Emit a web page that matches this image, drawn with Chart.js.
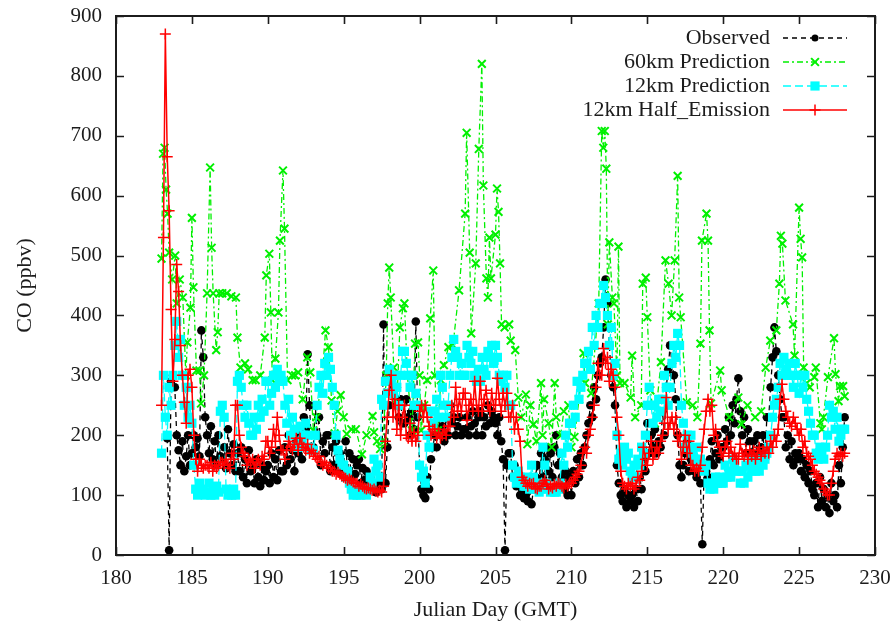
<!DOCTYPE html>
<html>
<head>
<meta charset="utf-8">
<title>CO time series</title>
<script src="https://cdn.jsdelivr.net/npm/chart.js@4.4.1/dist/chart.umd.min.js"></script>
<style>
  html, body { margin: 0; padding: 0; background: #fff; }
  canvas { display: block; }
</style>
</head>
<body>
<canvas id="co_chart" width="894" height="631"></canvas>
<script>
// observed, 12km and half-emission runs are 3-hourly from day 183.0 (8 values per line = one day)
const grid_start = 183.0;
const grid_step = 0.125;

const obs_co = [
  null, null, null, 195, 8, 290, 300, 280,
  200, 175, 150, 190, 140, 165, 200, 150,
  170, 200, 180, 195, 165, 375, 330, 230,
  200, 170, 215, 160, 190, 150, 200, 165,
  160, 180, 145, 210, 170, 150, 185, 140,
  170, 140, 180, 130, 160, 120, 175, 140,
  150, 120, 160, 130, 115, 150, 125, 140,
  150, 120, 170, 130, 160, 125, 175, 140,
  140, 180, 150, 200, 160, 175, 140, 190,
  170, 200, 160, 230, 210, 335, 250, 180,
  180, 250, 200, 230, 150, 190, 170, 200,
  200, 140, 180, 150, 190, 145, 170, 135,
  150, 190, 140, 170, 130, 160, 135, 150,
  160, 120, 145, 125, 140, 115, 130, 110,
  115, 105, 120, 110, 110, 385, 120, 180,
  250, 300, 270, 250, 280, 230, 260, 220,
  220, 260, 230, 200, 240, 210, 390, 230,
  150, 110, 100, 95, 130, 110, 160, 180,
  200, 180, 230, 200, 215, 190, 230, 200,
  250, 220, 230, 200, 215, 230, 200, 210,
  210, 230, 200, 215, 240, 220, 200, 230,
  240, 200, 230, 215, 250, 220, 240, 230,
  220, 200, 230, 190, 160, 8, 150, 170,
  170, 130, 150, 115, 130, 100, 110, 95,
  100, 90, 110, 85, 110, 130, 150, 120,
  170, 130, 160, 180, 140, 170, 130, 180,
  200, 150, 170, 130, 110, 140, 100, 130,
  100, 140, 120, 160, 130, 170, 150, 180,
  200, 220, 250, 230, 280, 260, 300, 320,
  330, 380, 460, 420, 350, 300, 280, 250,
  150, 120, 100, 90, 110, 80, 100, 90,
  100, 80, 110, 90, 130, 110, 160, 140,
  220, 170, 200, 180, 210, 170, 190, 180,
  240, 200, 280, 310, 350, 320, 300, 260,
  200, 150, 130, 150, 170, 190, 140, 160,
  160, 140, 130, 150, 120, 18, 150, 140,
  130, 160, 190, 150, 170, 200, 160, 180,
  180, 210, 190, 230, 200, 250, 220, 260,
  295, 240, 200, 230, 170, 210, 190, 170,
  190, 160, 200, 170, 180, 200, 160, 230,
  230, 280, 330, 380, 340, 300, 260, 230,
  230, 180, 200, 160, 190, 150, 170, 160,
  170, 140, 160, 130, 150, 120, 140, 110,
  100, 120, 80, 130, 90, 110, 80, 100,
  70, 120, 90, 100, 80, 150, 120, 180,
  230
];

const p12_co = [
  170, 300, 230, 200, 280, 250, 300, 350,
  390, 330, 360, 300, 250, 280, 230, 250,
  220, 150, 110, 100, 120, 105, 110, 100,
  105, 120, 100, 110, 100, 115, 105, 240,
  250, 230, 110, 100, 105, 100, 110, 100,
  290, 300, 280, 250, 230, 250, 220, 200,
  200, 230, 210, 250, 230, 260, 240, 290,
  290, 250, 270, 300, 280, 310, 290, 300,
  290, 250, 220, 260, 200, 230, 210, 180,
  180, 215, 190, 200, 220, 200, 180, 175,
  175, 200, 250, 280, 300, 270, 320, 300,
  330, 310, 280, 250, 200, 175, 160, 150,
  150, 130, 140, 120, 110, 100, 105, 100,
  105, 100, 110, 105, 100, 110, 130, 120,
  160, 140, 150, 130, 260, 250, 290, 270,
  310, 290, 270, 300, 280, 250, 300, 340,
  340, 320, 300, 280, 300, 250, 270, 250,
  150, 130, 140, 120, 200, 180, 240, 220,
  240, 260, 230, 300, 280, 250, 230, 250,
  300, 330, 360, 340, 330, 300, 320, 300,
  300, 350, 330, 320, 340, 300, 290, 310,
  290, 330, 310, 300, 340, 330, 350, 320,
  350, 330, 300, 290, 300, 280, 300, 250,
  250, 150, 130, 120, 140, 130, 120, 115,
  115, 130, 110, 150, 130, 110, 120, 105,
  110, 180, 150, 120, 110, 105, 110, 105,
  105, 110, 120, 170, 150, 200, 180, 220,
  220, 250, 230, 290, 260, 280, 300, 320,
  320, 340, 310, 380, 350, 400, 380, 420,
  420, 450, 430, 400, 350, 380, 300, 320,
  200, 160, 170, 150, 180, 160, 170, 140,
  130, 150, 130, 160, 150, 180, 170, 200,
  250, 280, 250, 220, 250, 230, 260, 240,
  260, 300, 280, 250, 280, 320, 350, 330,
  370, 350, 250, 220, 180, 200, 180, 200,
  170, 160, 180, 150, 160, 150, 140, 150,
  120, 110, 120, 110, 130, 120, 130, 120,
  120, 150, 130, 140, 130, 160, 150, 140,
  140, 120, 140, 120, 150, 130, 150, 140,
  160, 140, 150, 140, 160, 150, 160, 170,
  180, 200, 230, 250, 260, 280, 320, 300,
  330, 310, 300, 320, 300, 280, 320, 300,
  270, 300, 280, 300, 260, 240, 220, 200,
  200, 170, 160, 180, 170, 160, 180, 200,
  250, 230, 240, 210, 230, 190, 200, 210,
  210
];

const half_co = [
  250, 530, 870, 665, 575, 410, 290, 360,
  485, 440, 350, 300, 255, 220, 300, 310,
  280, 200, 160, 140, 160, 150, 145, 150,
  150, 145, 155, 140, 150, 145, 150, 155,
  155, 150, 160, 150, 145, 170, 160, 250,
  250, 200, 180, 170, 165, 150, 160, 155,
  160, 145, 155, 160, 150, 165, 160, 190,
  190, 170, 180, 210, 190, 230, 200, 175,
  175, 160, 175, 190, 180, 175, 185, 195,
  175, 195, 185, 180, 175, 185, 170, 175,
  170, 165, 160, 165, 155, 150, 155, 150,
  145, 145, 140, 140, 135, 138, 135, 132,
  130, 128, 125, 127, 125, 122, 120, 120,
  115, 118, 115, 112, 110, 112, 110, 108,
  110, 107, 105, 108, 105, 115, 190, 230,
  275, 300, 230, 260, 210, 250, 200, 230,
  250, 200, 195, 220, 190, 205, 190, 200,
  240, 250, 230, 250, 230, 215, 200, 210,
  210, 195, 205, 195, 200, 210, 200, 215,
  215, 250, 230, 280, 240, 260, 240, 270,
  270, 225, 250, 260, 240, 290, 250, 240,
  290, 240, 260, 275, 250, 240, 270, 250,
  250, 295, 260, 240, 270, 250, 270, 230,
  230, 250, 210, 230, 210, 190, 130, 125,
  120, 115, 120, 118, 120, 112, 110, 115,
  115, 120, 125, 118, 110, 115, 112, 118,
  115, 120, 118, 115, 112, 118, 115, 120,
  120, 125, 130, 135, 140, 150, 170, 180,
  170, 200, 210, 230, 250, 280, 320, 300,
  300, 345, 320, 330, 290, 310, 300, 280,
  230, 200, 140, 120, 115, 110, 120, 115,
  120, 110, 115, 130, 125, 140, 180, 160,
  150, 170, 190, 160, 170, 180, 170, 190,
  200, 220, 263, 210, 220, 230, 210, 230,
  190, 200, 160, 180, 200, 170, 190, 150,
  150, 140, 145, 140, 150, 180, 210, 240,
  260, 240, 250, 200, 210, 190, 180, 170,
  165, 180, 190, 170, 180, 165, 170, 160,
  160, 185, 170, 165, 175, 160, 175, 165,
  175, 160, 170, 180, 165, 175, 170, 180,
  170, 190, 180, 200, 190, 210, 260, 285,
  260, 240, 230, 220, 215, 230, 220, 210,
  200, 210, 180, 190, 170, 165, 160, 150,
  140, 135, 130, 125, 120, 110, 105, 100,
  100, 120, 140, 160, 170, 165, 170, 165,
  170
];

// 60km run, irregular picks (Julian day, ppbv)
const p60_days = [
  183.0, 183.1, 183.2, 183.3, 183.4, 183.5, 183.7, 183.9, 184.0, 184.2,
  184.4, 184.6, 184.7, 184.9, 185.0, 185.1, 185.3, 185.5, 185.6, 185.8,
  186.0, 186.2, 186.3, 186.4, 186.6, 186.7, 186.8, 187.0, 187.3, 187.6,
  187.9, 188.0, 188.2, 188.5, 188.7, 189.0, 189.2, 189.5, 189.8, 189.9,
  190.1, 190.2, 190.3, 190.5, 190.7, 190.8, 191.0, 191.1, 191.3, 191.6,
  191.8, 192.0, 192.3, 192.6, 192.8, 193.0, 193.2, 193.6, 193.8, 194.0,
  194.2, 194.4, 194.6, 194.8, 195.0, 195.2, 195.5, 195.8, 196.2, 196.5,
  196.9, 197.0, 197.2, 197.4, 197.6, 197.8, 197.9, 198.0, 198.1, 198.3,
  198.5, 198.7, 198.9, 199.0, 199.2, 199.5, 199.7, 199.9, 200.0, 200.1,
  200.3, 200.5, 200.7, 200.9, 201.0, 201.2, 201.4, 201.6, 201.9, 202.2,
  202.6, 203.0, 203.1, 203.3, 203.4, 203.7, 203.9, 204.1, 204.2, 204.4,
  204.5, 204.6, 204.7, 205.0, 205.1, 205.2, 205.3, 205.4, 205.6, 205.9,
  206.0, 206.3, 206.5, 206.7, 207.0, 207.1, 207.3, 207.5, 207.7, 208.0,
  208.1, 208.2, 208.5, 208.7, 208.9, 209.0, 209.3, 209.5, 209.8, 210.0,
  210.2, 210.5, 210.8, 210.9, 211.3, 211.8, 212.0, 212.1, 212.2, 212.3,
  212.4, 212.5, 212.7, 212.8, 213.0, 213.1, 213.2, 213.5, 213.9, 214.0,
  214.2, 214.6, 214.7, 214.9, 215.0, 215.2, 215.5, 215.9, 216.2, 216.4,
  216.6, 216.8, 217.0, 217.1, 217.2, 217.6, 218.0, 218.3, 218.5, 218.6,
  218.9, 219.0, 219.1, 219.2, 219.8, 219.9, 220.4, 221.0, 221.2, 221.6,
  222.1, 222.5, 222.8, 223.1, 223.5, 223.7, 223.8, 223.9, 224.1, 224.6,
  224.7, 225.0, 225.1, 225.2, 225.3, 225.5, 225.7, 226.0, 226.1, 226.4,
  226.5, 226.6, 226.9, 227.3, 227.4, 227.6, 227.7, 227.9, 228.0
];
const p60_co = [
  495, 670, 680, 610, 570, 505, 460, 500, 420, 460,
  430, 300, 355, 413, 563, 447, 308, 308, 253, 300,
  437, 647, 513, 437, 342, 372, 437, 437, 437, 432,
  430, 363, 313, 320, 310, 292, 292, 300, 363, 467,
  503, 405, 292, 328, 405, 525, 642, 545, 292, 300,
  300, 305, 260, 330, 305, 208, 230, 300, 375, 347,
  258, 203, 240, 267, 230, 202, 210, 210, 168, 200,
  232, 205, 190, 177, 190, 300, 420, 480, 430, 313,
  250, 380, 412, 420, 300, 208, 353, 355, 300, 208,
  250, 292, 395, 475, 300, 208, 292, 317, 347, 350,
  442, 570, 705, 505, 370, 487, 678, 820, 617, 462,
  430, 530, 462, 535, 612, 573, 487, 385, 380, 385,
  358, 342, 263, 230, 268, 185, 250, 218, 190, 287,
  200, 260, 220, 180, 287, 230, 200, 240, 250, 180,
  197, 260, 337, 287, 270, 420, 708, 680, 708, 645,
  385, 522, 430, 420, 300, 515, 287, 287, 263, 333,
  230, 250, 453, 463, 397, 275, 220, 322, 492, 453,
  400, 492, 633, 430, 397, 255, 250, 230, 353, 525,
  570, 525, 375, 253, 308, 275, 230, 263, 218, 250,
  230, 240, 313, 358, 375, 453, 533, 520, 425, 385,
  333, 580, 528, 497, 313, 287, 280, 297, 313, 220,
  210, 230, 297, 362, 302, 257, 282, 282, 265
];

const day_ticks = [180, 185, 190, 195, 200, 205, 210, 215, 220, 225, 230];
const co_ticks = [0, 100, 200, 300, 400, 500, 600, 700, 800, 900];

const serif = "'Liberation Serif', 'DejaVu Serif', serif";
const ink = '#1c1c1c';

function grid_points(vals) {
    return vals.map((v, i) => ({ x: grid_start + i * grid_step, y: v }));
}
function to_points(days, vals) {
    return days.map((d, i) => ({ x: d, y: vals[i] }));
}

// gnuplot style frame with ticks pointing inwards on all four sides
const frame_plugin = {
    id: 'frame_plugin',
    afterDatasetsDraw(chart) {
        const ctx = chart.ctx;
        const a = chart.chartArea;
        const xs = chart.scales.x;
        const ys = chart.scales.y;
        const len = 8;
        ctx.save();
        ctx.strokeStyle = ink;
        ctx.lineWidth = 1.6;
        ctx.setLineDash([]);
        ctx.beginPath();
        day_ticks.forEach(d => {
            const px = Math.round(xs.getPixelForValue(d)) + 0.5;
            ctx.moveTo(px, a.bottom); ctx.lineTo(px, a.bottom - len);
            ctx.moveTo(px, a.top); ctx.lineTo(px, a.top + len);
        });
        co_ticks.forEach(v => {
            const py = Math.round(ys.getPixelForValue(v)) + 0.5;
            ctx.moveTo(a.left, py); ctx.lineTo(a.left + len, py);
            ctx.moveTo(a.right, py); ctx.lineTo(a.right - len, py);
        });
        ctx.stroke();
        ctx.lineWidth = 2;
        ctx.strokeRect(a.left, a.top, a.right - a.left, a.bottom - a.top);
        ctx.restore();
    }
};

// key in the top right corner: label, then a short sample of line and marker
const key_plugin = {
    id: 'key_plugin',
    afterDraw(chart) {
        const ctx = chart.ctx;
        const text_right = 770, line_from = 783, line_to = 847, mark_x = 815;
        const rows = [38, 62, 86, 110];
        ctx.save();
        ctx.font = '22px ' + serif;
        ctx.textAlign = 'right';
        ctx.textBaseline = 'middle';
        chart.data.datasets.forEach((ds, i) => {
            const y = rows[i];
            ctx.fillStyle = ink;
            ctx.fillText(ds.label, text_right, y);
            ctx.strokeStyle = ds.borderColor;
            ctx.lineWidth = ds.borderWidth;
            ctx.setLineDash(ds.borderDash || []);
            ctx.beginPath();
            ctx.moveTo(line_from, y);
            ctx.lineTo(line_to, y);
            ctx.stroke();
            ctx.setLineDash([]);
            ctx.fillStyle = ds.pointBackgroundColor;
            ctx.strokeStyle = ds.borderColor;
            ctx.lineWidth = ds.pointBorderWidth || 0.01;
            Chart.helpers.drawPoint(ctx, {
                pointStyle: ds.pointStyle,
                radius: i === 0 ? 3.5 : ds.pointRadius,
                rotation: 0,
                borderWidth: ds.pointBorderWidth
            }, mark_x, y);
        });
        ctx.restore();
    }
};

new Chart(document.getElementById('co_chart'), {
    type: 'line',
    data: {
        datasets: [
            {
                label: 'Observed',
                data: grid_points(obs_co),
                borderColor: '#000000',
                pointBackgroundColor: '#000000',
                borderWidth: 1.3,
                borderDash: [5, 4],
                pointStyle: 'circle',
                pointRadius: 4.3,
                pointBorderWidth: 0,
                order: 4
            },
            {
                label: '60km Prediction',
                data: to_points(p60_days, p60_co),
                borderColor: '#00f000',
                pointBackgroundColor: '#00f000',
                borderWidth: 1.3,
                borderDash: [6, 3, 2, 3],
                pointStyle: 'crossRot',
                pointRadius: 5.5,
                pointBorderWidth: 2,
                order: 3
            },
            {
                label: '12km Prediction',
                data: grid_points(p12_co),
                borderColor: '#00ffff',
                pointBackgroundColor: '#00ffff',
                borderWidth: 1.3,
                borderDash: [8, 4],
                pointStyle: 'rect',
                pointRadius: 6.5,
                pointBorderWidth: 0,
                order: 2
            },
            {
                label: '12km Half_Emission',
                data: grid_points(half_co),
                borderColor: '#ff0000',
                pointBackgroundColor: '#ff0000',
                borderWidth: 1.5,
                borderDash: [],
                pointStyle: 'cross',
                pointRadius: 5.5,
                pointBorderWidth: 1.5,
                order: 1
            }
        ]
    },
    options: {
        responsive: false,
        animation: false,
        devicePixelRatio: 1,
        layout: { padding: { left: 0, right: 19, top: 16, bottom: 0 } },
        elements: { line: { tension: 0, fill: false } },
        plugins: {
            legend: { display: false },
            tooltip: { enabled: false }
        },
        scales: {
            x: {
                type: 'linear',
                min: 180,
                max: 230,
                afterBuildTicks: s => { s.ticks = day_ticks.map(v => ({ value: v })); },
                afterFit: s => { s.height = 76; s.paddingLeft = 0; s.paddingRight = 0; },
                ticks: { font: { family: serif, size: 21 }, color: ink, padding: 11, maxRotation: 0 },
                grid: { display: false, drawTicks: false },
                border: { display: false },
                title: {
                    display: true,
                    text: 'Julian Day (GMT)',
                    color: ink,
                    font: { family: serif, size: 22 },
                    padding: { top: 0, bottom: 8 }
                }
            },
            y: {
                type: 'linear',
                min: 0,
                max: 900,
                afterBuildTicks: s => { s.ticks = co_ticks.map(v => ({ value: v })); },
                afterFit: s => { s.width = 116; s.paddingTop = 0; s.paddingBottom = 0; },
                ticks: { font: { family: serif, size: 21 }, color: ink, padding: 14 },
                grid: { display: false, drawTicks: false },
                border: { display: false },
                title: {
                    display: true,
                    text: 'CO (ppbv)',
                    color: ink,
                    font: { family: serif, size: 22 },
                    padding: { top: 12, bottom: 0 }
                }
            }
        }
    },
    plugins: [frame_plugin, key_plugin]
});
</script>
</body>
</html>
